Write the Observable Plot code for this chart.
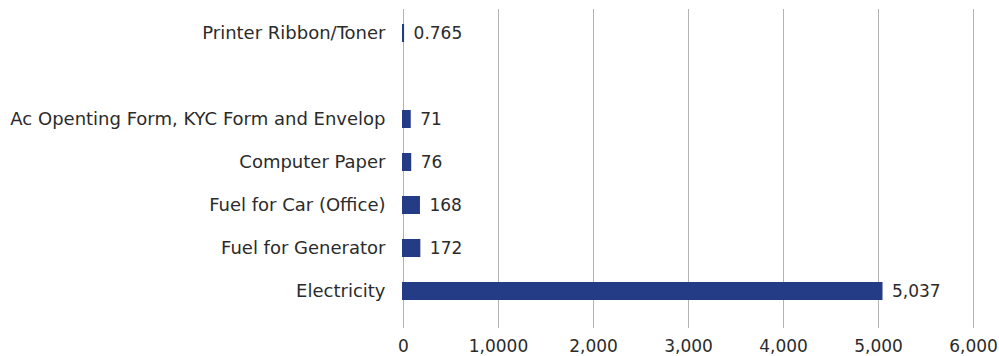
<!DOCTYPE html>
<html>
<head>
<meta charset="utf-8">
<script src="https://cdn.jsdelivr.net/npm/d3@7"></script>
<script src="https://cdn.jsdelivr.net/npm/@observablehq/plot@0.6"></script>
<style>
  html, body { margin: 0; padding: 0; background: #fff; }
  #chart svg { display: block; }
</style>
</head>
<body>
<div id="chart"></div>
<script>
const categories = [
  "Printer Ribbon/Toner",
  " ",
  "Ac Openting Form, KYC Form and Envelop",
  "Computer Paper",
  "Fuel for Car (Office)",
  "Fuel for Generator",
  "Electricity"
];
const barCategories = [
  "Printer Ribbon/Toner",
  "Ac Openting Form, KYC Form and Envelop",
  "Computer Paper",
  "Fuel for Car (Office)",
  "Fuel for Generator",
  "Electricity"
];
const values = [0.765, 71, 76, 168, 172, 5037];
const valueLabels = ["0.765", "71", "76", "168", "172", "5,037"];
const tickValues = [0, 1000, 2000, 3000, 4000, 5000, 6000];
const tickLabels = ["0", "1,0000", "2,000", "3,000", "4,000", "5,000", "6,000"];

const data = barCategories.map((c, i) => ({cat: c, value: values[i], label: valueLabels[i]}));

const font = "'DejaVu Sans', sans-serif";
const navy = "#243b85";
const ink = "#2b2b2b";

const chart = Plot.plot({
  width: 999,
  height: 356,
  marginTop: 9,
  marginBottom: 28,
  marginLeft: 403,
  marginRight: 26,
  style: {fontFamily: font, fontSize: "17px", color: ink, background: "#fff"},
  x: {domain: [0, 6000], ticks: tickValues, label: null},
  y: {domain: categories, range: [9, 314.5], paddingInner: 0.62, paddingOuter: 0.31, label: null},
  marks: [
    Plot.ruleX(tickValues, {stroke: "#b3b3b3", strokeWidth: 1}),
    Plot.barX(data, {x: "value", y: "cat", fill: navy, stroke: navy, strokeWidth: 2}),
    Plot.text(data, {x: "value", y: "cat", text: "label", textAnchor: "start", dx: 10, fill: ink, fontSize: 17}),
    Plot.axisX({ticks: tickValues, tickFormat: (d) => tickLabels[tickValues.indexOf(d)], tickSize: 0, tickPadding: 11, fontSize: 17, fill: ink, label: null}),
    Plot.axisY({tickSize: 0, tickPadding: 18, fontSize: 18, fill: ink, label: null})
  ]
});
document.getElementById("chart").appendChild(chart);
</script>
</body>
</html>
